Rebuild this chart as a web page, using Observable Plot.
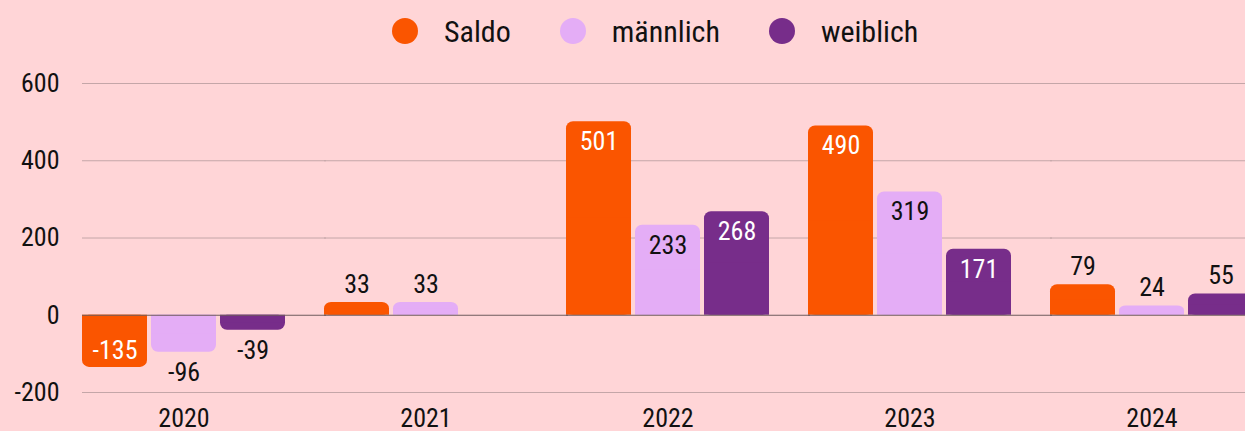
<!DOCTYPE html>
<html><head><meta charset="utf-8">
<script src="https://cdn.jsdelivr.net/npm/d3@7"></script>
<script src="https://cdn.jsdelivr.net/npm/@observablehq/plot@0.6"></script>
<style>
html,body{margin:0;padding:0;background:#ffd5d7;overflow:hidden;width:1245px;height:431px}
body{font-family:"Roboto Condensed","Liberation Sans Narrow","DejaVu Sans Condensed",sans-serif;color:#111}
#legend{display:flex;height:62px;align-items:center;padding-left:392px;font-size:30px}
.item{display:flex;align-items:center;margin-right:49px}
.sw{width:26px;height:26px;border-radius:50%;margin-right:26px}
</style></head><body>
<div id="legend"></div><div id="chart"></div>
<script>
const years = ["2020", "2021", "2022", "2023", "2024"];
const seriesNames = ["Saldo", "männlich", "weiblich"];
const saldo = [-135, 33, 501, 490, 79];
const maennlich = [-96, 33, 233, 319, 24];
const weiblich = [-39, 0, 268, 171, 55];
const yTicks = [-200, 0, 200, 400, 600];
const colors = ["#fa5500", "#e4adf6", "#772d8a"];

const seriesValues = [saldo, maennlich, weiblich];
const data = years.flatMap((yr, i) => seriesNames.map((s, j) => ({year: yr, series: s, value: seriesValues[j][i]})));
const labeled = data.filter(d => d.value !== 0);
const inside = d => Math.abs(d.value) >= 100;
const labelFill = d => (inside(d) && d.series !== "männlich") ? "#ffffff" : "#111111";
const FONT = '"Roboto Condensed","Liberation Sans Narrow","DejaVu Sans Condensed",sans-serif';

const legend = document.getElementById("legend");
seriesNames.forEach((s, j) => {
  const it = document.createElement("div"); it.className = "item";
  const sw = document.createElement("span"); sw.className = "sw"; sw.style.background = colors[j];
  const tx = document.createElement("span"); tx.textContent = s;
  it.append(sw, tx); legend.append(it);
});

const txt = (filter, dy) => Plot.text(labeled.filter(filter), {
  fx: "year", x: "series", y: "value", text: d => String(d.value), dy,
  fill: labelFill, fontSize: 26, fontFamily: FONT
});

// grid rules drawn in each facet, extended right across the gap to the next facet
const gridData = years.flatMap(yr => yTicks.map(v => ({year: yr, v})));

const chart = Plot.plot({
  width: 1254, height: 369,
  marginLeft: 81, marginRight: 0, marginTop: 21, marginBottom: 39,
  style: {background: "transparent", fontFamily: FONT, fontSize: "26px", color: "#111", overflow: "visible", maxWidth: "none"},
  fx: {domain: years, paddingInner: 0.163, paddingOuter: 0, round: true, label: null, tickSize: 0, tickPadding: 16, axis: "bottom"},
  x: {domain: seriesNames, paddingInner: 0.058, paddingOuter: 0, round: true, axis: null},
  y: {domain: [-200, 600], ticks: yTicks, tickFormat: d => String(d), label: null, tickSize: 0, tickPadding: 23},
  color: {domain: seriesNames, range: colors},
  marks: [
    Plot.ruleY(gridData.filter(d => d.v !== 0), {fx: "year", y: "v", stroke: "#c4a6a8", strokeWidth: 1, insetRight: -41}),
    Plot.barY(data, {fx: "year", x: "series", y: "value", fill: "series", rx: 7}),
    Plot.barY(data, {fx: "year", x: "series", y: d => d.value / 2, fill: "series"}),
    Plot.ruleY(gridData.filter(d => d.v === 0), {fx: "year", y: "v", stroke: "#6e5b5c", strokeWidth: 1.2, insetRight: -41}),
    txt(d => inside(d) && d.value > 0, 20),
    txt(d => inside(d) && d.value < 0, -17),
    txt(d => !inside(d) && d.value > 0, -18),
    txt(d => !inside(d) && d.value < 0, 20)
  ]
});
document.getElementById("chart").append(chart);
</script>
</body></html>
